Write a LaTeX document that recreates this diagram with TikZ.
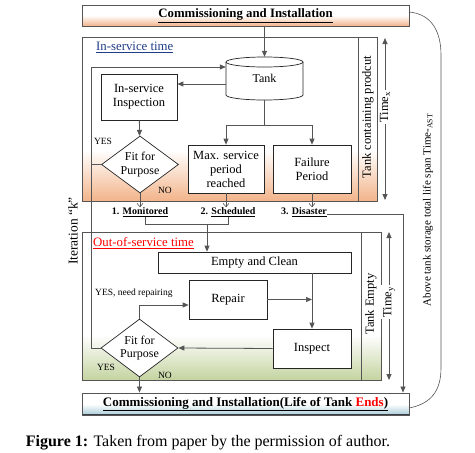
\documentclass[tikz,border=0pt]{standalone}
\usepackage{fontspec}
\setmainfont{Liberation Serif}
\usetikzlibrary{arrows.meta,shapes.geometric,calc}
\definecolor{peach}{HTML}{F2B48A}
\definecolor{olivegr}{HTML}{C4D3A0}
\definecolor{paleblue}{HTML}{A9CCD8}
\definecolor{linegray}{HTML}{555555}
\definecolor{navy}{HTML}{1F3C88}
\begin{document}
\begin{tikzpicture}[x=1pt,y=-1pt,
  box/.style={draw=black!85,line width=0.7pt,fill=white,align=center,inner sep=1pt,font=\fontsize{12.5}{14}\selectfont},
  dia/.style={diamond,draw=black!85,line width=0.7pt,fill=white,align=center,inner sep=0pt,aspect=1.33,minimum width=77pt,minimum height=57pt,font=\fontsize{12}{13.5}\selectfont},
  region/.style={draw=linegray,line width=0.9pt},
  conn/.style={draw=linegray,line width=0.8pt},
  arr/.style={conn,-{Triangle[length=6pt,width=5pt]}},
  varr/.style={conn,line width=0.6pt,-{Straight Barb[length=3.5pt,width=6pt]}},
  lbl/.style={inner sep=0pt,font=\fontsize{9.5}{11}\selectfont},
  blbl/.style={inner sep=0pt,font=\bfseries\fontsize{10}{11}\selectfont},
  vtxt/.style={rotate=90,inner sep=1pt,font=\fontsize{12.5}{14}\selectfont}
]
\useasboundingbox (0,0) rectangle (475,453);
\fill[white] (0,0) rectangle (475,453);

% ---------- top box
\shade[top color=white,bottom color=peach,middle color=white] (82,5) rectangle (409,26);
\node[draw=linegray,line width=0.9pt,minimum width=327pt,minimum height=21pt,inner sep=0pt,
  font=\bfseries\fontsize{12.8}{14}\selectfont] (top) at (245.5,15.5) {\underline{Commissioning and Installation}};

% ---------- in-service region
\shade[top color=white,bottom color=peach] (82,150) rectangle (377,201);
\draw[region] (82,37) rectangle (377,201);
\draw[region] (358,37) -- (358,201);
\node[anchor=west,inner sep=0pt,text=navy,font=\fontsize{12.8}{14}\selectfont] (inst) at (96,47) {\underline{In-service time}};

% tank
\draw[black!85,line width=0.7pt,fill=white] (226,62) -- (226,95) arc[start angle=180,end angle=360,x radius=38.5pt,y radius=5pt] -- (303,62);
\draw[black!85,line width=0.7pt,fill=white] (264.5,62) ellipse[x radius=38.5pt,y radius=5pt];
\node[minimum width=77pt,minimum height=43pt,inner sep=0pt,font=\fontsize{12}{14}\selectfont] (tank) at (264.5,78.5) {Tank};

\node[box,minimum width=76pt,minimum height=46pt] (insp) at (139,97) {In-service\\Inspection};
\node[dia] (d1) at (140,164.5) {Fit for\\Purpose};
\node[box,minimum width=76pt,minimum height=48pt] (maxs) at (226,169) {Max. service\\period\\reached};
\node[box,minimum width=78pt,minimum height=48pt] (fail) at (312,169) {Failure\\Period};

\node[lbl] at (103,141) {YES};
\node[lbl] at (165,190) {NO};

\node[blbl] (mon) at (140,212) {1. \underline{Monitored}};
\node[blbl] (sch) at (228,212) {2. \underline{Scheduled}};
\node[blbl] (dis) at (304,212) {3. \underline{Disaster}};

% connectors in-service
\draw[arr] (top.south -| tank.north) -- (tank.north);
\coordinate (tk1) at (226,84);
\draw[arr] (tk1) -- (tk1 -| insp.east);
\draw[arr] (insp) -- (d1);
\draw[conn] (tank.south) -- ++(0,25) coordinate (br);
\draw[arr] (br) -| (maxs.north);
\draw[arr] (br) -| (fail.north);
\coordinate (lb) at (91,348);
\coordinate (lt) at (91,67);
\draw[conn] (d1.west) -- (d1.west -| lb);
\draw[varr] (d1.south) -- (d1.south |- mon.north);
\draw[varr] (maxs.south) -- (maxs.south |- sch.north);
\draw[varr] (fail.south) -- (fail.south |- dis.north);

% bracket
\coordinate (bk1) at (145,224);
\coordinate (bk2) at (228,224);
\coordinate (bk3) at (207,224);
\draw[conn,line width=0.6pt] (bk1 |- mon.south) -- (bk1) -- (bk2) -- (bk2 |- sch.south);

% ---------- out-of-service region
\shade[top color=white,bottom color=olivegr] (82,335) rectangle (381,380);
\draw[region] (82,232) rectangle (381,380);
\draw[region] (361,232) -- (361,380);
\node[anchor=west,inner sep=0pt,text=red,font=\fontsize{12.8}{14}\selectfont] (oost) at (93,243) {\underline{Out-of-service time}};

\node[box,minimum width=193pt,minimum height=21pt] (empty) at (254.5,262.5) {Empty and Clean};
\node[box,minimum width=78pt,minimum height=39pt] (repair) at (228,299.5) {Repair};
\node[box,minimum width=78pt,minimum height=39pt] (inspect) at (312,348.5) {Inspect};
\node[dia,minimum height=58pt] (d2) at (139.5,348) {Fit for\\Purpose};

\node[lbl,anchor=west] at (95,293) {YES, need repairing};
\node[lbl] at (106,367) {YES};
\node[lbl] at (165,375) {NO};

\draw[arr] (bk3) -- (bk3 |- empty.north);
\draw[arr] (inspect.north |- empty.south) -- (inspect.north);
\draw[conn,line width=0.6pt,-{Triangle[length=6pt,width=5pt]}] (repair.east) -- (repair.east -| inspect.north);
\draw[arr] (inspect.west) -- (d2.east);
\draw[arr] (d2.north) |- ([yshift=-5.5pt]repair.west);
\draw[arr] (d2.west) -- (lb) -- (lt) -- (lt -| tank.west);

% ---------- bottom box
\shade[top color=white,bottom color=paleblue,middle color=white] (82,393) rectangle (409,415);
\draw[line width=1.2pt,draw=black!60!cyan!40!black] (82,414.5) -- (409,414.5);
\node[draw=linegray,line width=0.9pt,minimum width=327pt,minimum height=22pt,inner sep=0pt,
  font=\bfseries\fontsize{13}{14}\selectfont] (bot) at (245.5,404) {\underline{Commissioning and Installation(Life of Tank \textcolor{red}{Ends})}};

\draw[arr] (d2.south) -- (d2.south |- bot.north);
\coordinate (dc) at (403,214);
\draw[arr] (dis.east |- dc) -- (dc) -- (dc |- bot.north);

% ---------- right side
\coordinate (tx1) at (385,38);
\coordinate (tx2) at (385,200);
\draw[conn,{Triangle[length=6pt,width=5pt]}-{Triangle[length=6pt,width=5pt]}] (tx1) -- (tx2);
\node[fill=white,vtxt,inner sep=2pt] (timex) at (385,107) {Time\textsubscript{x}};
\coordinate (ty1) at (389,232);
\coordinate (ty2) at (389,380);
\draw[conn,{Triangle[length=6pt,width=5pt]}-{Triangle[length=6pt,width=5pt]}] (ty1) -- (ty2);
\node[fill=white,vtxt,inner sep=2pt] (timey) at (389,302) {Time\textsubscript{y}};

\node[vtxt] (tcp) at (368,117) {Tank containing prodcut};
\node[vtxt] (tem) at (371,304) {Tank Empty};

\coordinate (c1) at (409,12);
\coordinate (c2) at (409,408);
\draw[linegray,line width=0.6pt] (c1) .. controls (432,14) and (441,32) .. (441,55) -- (441,368) .. controls (441,392) and (430,404) .. (c2);
\node[vtxt,font=\fontsize{11}{12}\selectfont] (life) at (428,210) {Above tank storage total life span Time-\textsubscript{AST}};

\node[vtxt,font=\fontsize{13.5}{14}\selectfont] (iter) at (73,231) {Iteration “k”};

% caption
\node[inner sep=0pt,font=\fontsize{16}{18}\selectfont] (cap) at (208,443) {\textbf{Figure 1:} Taken from paper by the permission of author.};
\end{tikzpicture}
\end{document}
